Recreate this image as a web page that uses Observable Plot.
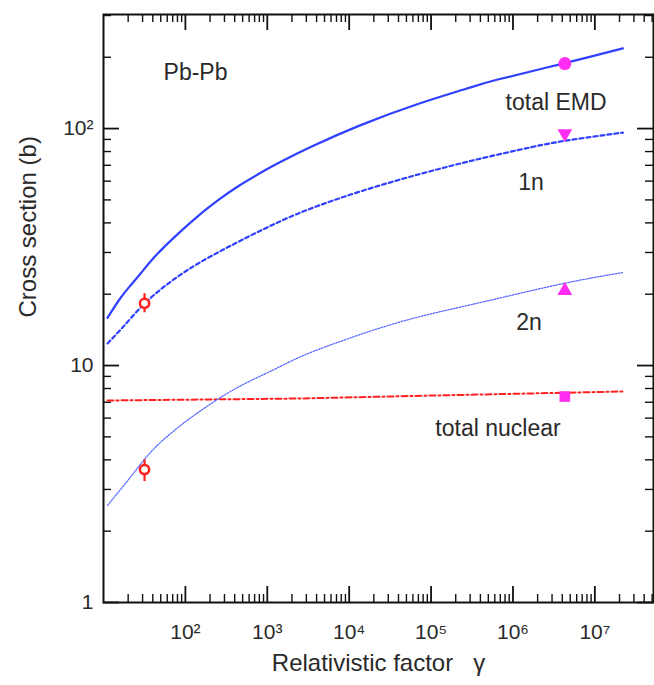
<!DOCTYPE html>
<html><head><meta charset="utf-8">
<script src="https://cdn.jsdelivr.net/npm/d3@7"></script>
<script src="https://cdn.jsdelivr.net/npm/@observablehq/plot@0.6"></script>
<style>body{margin:0;background:#fff} svg{display:block}</style>
</head><body><div id="chart"></div>
<script>
// total EMD (solid)
const emdGamma = [11.2, 16.1, 21.4, 28.3, 40.8, 71.7, 153, 248, 388, 1010, 1460, 3210, 12700, 75000, 307000, 494000, 4200000, 22000000];
const emdSigma = [15.9, 19.4, 21.8, 24.4, 28.6, 34.7, 43.8, 49.7, 55.8, 67.8, 72.5, 83.1, 103, 129, 149, 158, 188, 218];
// 1n (dashed)
const n1Gamma = [11.2, 16.1, 30.8, 60.5, 126, 248, 473, 1100, 2790, 13900, 75000, 307000, 2020000, 4200000, 22000000];
const n1Sigma = [12.4, 14.1, 18.3, 22.2, 26.4, 30.0, 33.7, 39.0, 45.1, 54.7, 64.6, 73.3, 84.8, 89, 96.2];
// 2n (dotted)
const n2Gamma = [11.2, 23.3, 37.6, 80, 153, 328, 627, 1460, 2560, 9620, 52000, 406000, 4200000, 22000000];
const n2Sigma = [2.57, 3.50, 4.38, 5.48, 6.46, 7.69, 8.65, 9.9, 11.0, 13.0, 15.8, 18.4, 22.4, 24.7];
// total nuclear (dash-dot)
const nucGamma = [11.2, 2560, 174000, 22000000];
const nucSigma = [7.12, 7.26, 7.5, 7.77];
// magenta points at LHC gamma
const lhcGamma = [4300000, 4300000, 4300000, 4300000];
const lhcSigma = [188, 95.3, 20.7, 7.40];
const lhcSymbol = ["circle", "triangle", "triangle", "square"];
const lhcRotate = [0, 180, 0, 0];
const lhcR = [6.5, 5.5, 5.5, 6];
// red measured points with error bars
const spsGamma = [31.7, 31.7];
const spsSigma = [18.3, 3.64];
const spsLow = [16.7, 3.24];
const spsHigh = [20.1, 4.0];
// annotations
const noteText = ["Pb-Pb", "total EMD", "1n", "2n", "total nuclear"];
const noteGamma = [133, 3360000, 1660000, 1570000, 656000];
const noteSigma = [172, 129, 59.2, 15.2, 5.42];
// ticks
const xMajor = [1e2, 1e3, 1e4, 1e5, 1e6, 1e7];
const xTickLabels = ["10²", "10³", "10⁴", "10⁵", "10⁶", "10⁷"];
const yMajor = [1, 10, 100];
const yTickLabels = ["1", "10", "10²"];
const xMinor = [];
for (let e = 1; e <= 7; e++) for (let m = 2; m <= 9; m++) { const v = m * Math.pow(10, e); if (v <= 5.2e7) xMinor.push(v); }
const yMinor = [];
for (let e = 0; e <= 2; e++) for (let m = 2; m <= 9; m++) { const v = m * Math.pow(10, e); if (v <= 303) yMinor.push(v); }

const toRows = (gs, ss) => gs.map((g, i) => ({g, s: ss[i]}));
const blue = "#3040ff";
const magenta = "#ff2ef2";
const red = "#ff2020";
const textColor = "#2a2a2a";

const lhcRows = lhcGamma.map((g, i) => ({g, s: lhcSigma[i], sym: lhcSymbol[i], rot: lhcRotate[i], r: lhcR[i]}));
const spsRows = spsGamma.map((g, i) => ({g, s: spsSigma[i], lo: spsLow[i], hi: spsHigh[i]}));
const noteRows = noteText.map((t, i) => ({t, g: noteGamma[i], s: noteSigma[i]}));

const W = 654, H = 685, mL = 103, mR = 1, mT = 14, mB = 83;
const fw = W - mL - mR, fh = H - mT - mB;
const minorLen = 8, majorLen = 16;
const id = d => d;
const tickStroke = "#111";

const chart = Plot.plot({
  width: W, height: H,
  marginLeft: mL, marginRight: mR, marginTop: mT, marginBottom: mB,
  style: {fontFamily: "'Liberation Sans', Arial, Helvetica, sans-serif", color: "#111", background: "#fff"},
  x: {type: "log", domain: [10, 5.2e7]},
  y: {type: "log", domain: [1, 303]},
  marks: [
    // inward ticks on all four sides
    Plot.ruleX(xMinor, {x: id, insetTop: fh - minorLen, stroke: tickStroke, strokeWidth: 1.4}),
    Plot.ruleX(xMajor, {x: id, insetTop: fh - majorLen, stroke: tickStroke, strokeWidth: 1.8}),
    Plot.ruleX(xMinor, {x: id, insetBottom: fh - minorLen, stroke: tickStroke, strokeWidth: 1.4}),
    Plot.ruleX(xMajor, {x: id, insetBottom: fh - majorLen, stroke: tickStroke, strokeWidth: 1.8}),
    Plot.ruleY(yMinor, {y: id, insetRight: fw - minorLen, stroke: tickStroke, strokeWidth: 1.4}),
    Plot.ruleY(yMajor, {y: id, insetRight: fw - majorLen, stroke: tickStroke, strokeWidth: 1.8}),
    Plot.ruleY(yMinor, {y: id, insetLeft: fw - minorLen, stroke: tickStroke, strokeWidth: 1.4}),
    Plot.ruleY(yMajor, {y: id, insetLeft: fw - majorLen, stroke: tickStroke, strokeWidth: 1.8}),
    // tick labels
    Plot.axisX(xMajor, {anchor: "bottom", tickSize: 0, tickPadding: 22, label: null, fontSize: 21, fill: textColor,
      tickFormat: d => xTickLabels[xMajor.indexOf(d)]}),
    Plot.axisY(yMajor, {anchor: "left", tickSize: 0, tickPadding: 10, label: null, fontSize: 21, fill: textColor,
      tickFormat: d => yTickLabels[yMajor.indexOf(d)]}),
    Plot.frame({stroke: "#111", strokeWidth: 2}),
    // curves
    Plot.line(toRows(nucGamma, nucSigma), {x: "g", y: "s", stroke: red, strokeWidth: 2, strokeDasharray: "6,3,2,3"}),
    Plot.line(toRows(n2Gamma, n2Sigma), {x: "g", y: "s", stroke: "#5a6aff", strokeWidth: 1.3, strokeDasharray: "1.5,1.5", curve: "basis"}),
    Plot.line(toRows(n1Gamma, n1Sigma), {x: "g", y: "s", stroke: blue, strokeWidth: 2.2, strokeDasharray: "4,3", curve: "basis"}),
    Plot.line(toRows(emdGamma, emdSigma), {x: "g", y: "s", stroke: blue, strokeWidth: 2.2, curve: "basis"}),
    // red measured points
    Plot.ruleX(spsRows, {x: "g", y1: "lo", y2: "hi", stroke: red, strokeWidth: 2.2}),
    Plot.dot(spsRows, {x: "g", y: "s", r: 4.6, fill: "#fff", stroke: red, strokeWidth: 2.6}),
    // magenta points
    ...lhcRows.map(d => Plot.dot([d], {x: "g", y: "s", symbol: d.sym, rotate: d.rot, r: d.r, fill: magenta, stroke: "none"})),
    // annotations
    Plot.text(noteRows, {x: "g", y: "s", text: "t", fontSize: 23, fill: textColor}),
    // axis titles
    Plot.text(["Cross section (b)"], {text: id, frameAnchor: "left", rotate: -90, dx: -75, dy: 9, fontSize: 24, fill: textColor}),
    Plot.text(["Relativistic factor\u00a0\u00a0\u00a0γ"], {text: id, frameAnchor: "bottom", dy: 68, fontSize: 24, fill: textColor})
  ]
});
document.getElementById("chart").appendChild(chart);
</script>
</body></html>
